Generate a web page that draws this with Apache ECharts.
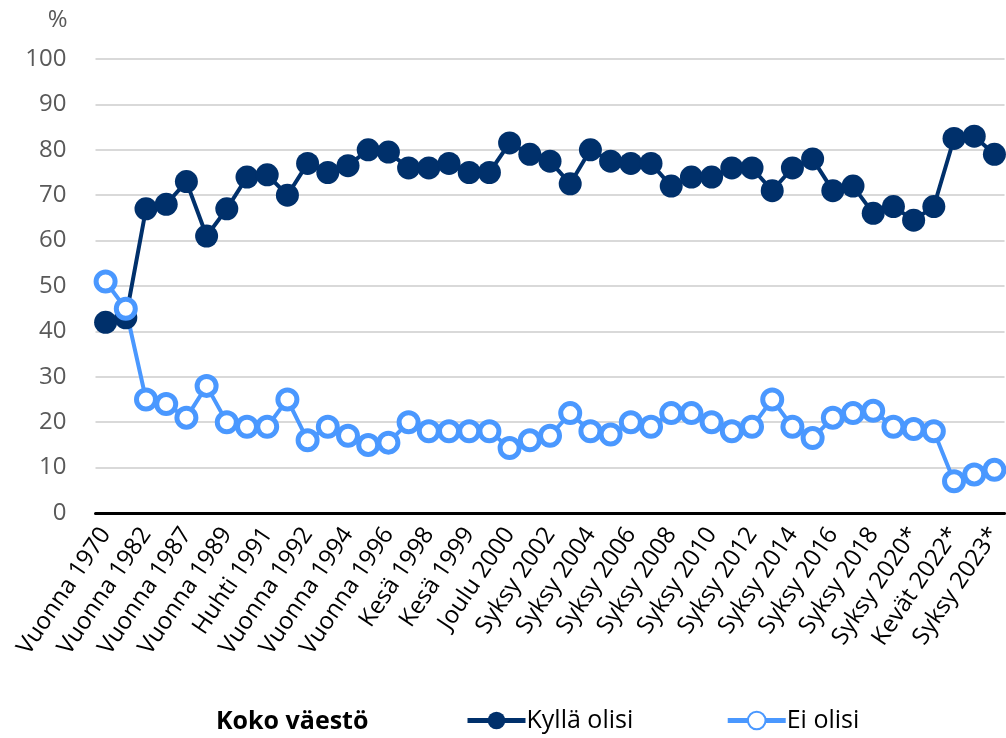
<!DOCTYPE html>
<html><head><meta charset="utf-8">
<script src="https://cdn.jsdelivr.net/npm/echarts@6/dist/echarts.min.js"></script>
<style>html,body{margin:0;padding:0;background:#fff}#c{width:1006px;height:738px}</style>
</head><body><div id="c"></div>
<script>
const categories = [
 'Vuonna 1970','Vuonna 1975','Vuonna 1982','Vuonna 1985','Vuonna 1987','Vuonna 1988','Vuonna 1989','Vuonna 1990',
 'Huhti 1991','Loka 1991','Vuonna 1992','Vuonna 1993','Vuonna 1994','Vuonna 1995','Vuonna 1996','Vuonna 1997',
 'Kesä 1998','Joulu 1998','Kesä 1999','Joulu 1999','Joulu 2000','Syksy 2001','Syksy 2002','Syksy 2003',
 'Syksy 2004','Syksy 2005','Syksy 2006','Syksy 2007','Syksy 2008','Syksy 2009','Syksy 2010','Syksy 2011',
 'Syksy 2012','Syksy 2013','Syksy 2014','Syksy 2015','Syksy 2016','Syksy 2017','Syksy 2018','Syksy 2019',
 'Syksy 2020*','Syksy 2021*','Kevät 2022*','Syksy 2022*','Syksy 2023*'
];
const kyllaOlisi = [42,43,67,68,73,61,67,74,74.5,70,77,75,76.5,80,79.5,76,76,77,75,75,81.5,79,77.5,72.5,80,77.5,77,77,72,74,74,76,76,71,76,78,71,72,66,67.5,64.5,67.5,82.5,83,79];
const eiOlisi = [51,45,25,24,21,28,20,19,19,25,16,19,17,15,15.5,20,18,18,18,18,14.3,16,17,22,18,17.3,20,19,22,22,20,18,19,25,19,16.5,21,22,22.5,19,18.5,18,7,8.5,9.5];
const yTicks = {min:0, max:100, interval:10};
const seriesNames = ['Kyllä olisi','Ei olisi'];
const groupTitle = 'Koko väestö';

const FONT = '"Open Sans", "Noto Sans", sans-serif';
const chart = echarts.init(document.getElementById('c'), null, {renderer:'canvas'});
chart.setOption({
  animation:false,
  textStyle:{fontFamily:FONT},
  title:{text:groupTitle, left:211, top:704, textStyle:{fontFamily:FONT, fontSize:25, fontWeight:'bold', color:'#000'}},
  legend:{left:460, top:703, itemGap:92, itemWidth:58, itemHeight:22,
    lineStyle:{width:5},
    textStyle:{fontFamily:FONT, fontSize:25, color:'#000', padding:[0,0,0,-4]},
    data:seriesNames},
  grid:{left:95.5, right:-3.5, top:59, bottom:225, containLabel:false},
  xAxis:{type:'category', data:categories, boundaryGap:true,
    axisTick:{show:false},
    axisLine:{lineStyle:{color:'#000', width:3}},
    axisLabel:{interval:1, rotate:56, fontFamily:FONT, fontSize:24, color:'#000', margin:17}},
  yAxis:{type:'value', min:yTicks.min, max:yTicks.max, interval:yTicks.interval,
    name:'%', nameLocation:'end', nameGap:27,
    nameTextStyle:{fontFamily:FONT, fontSize:24, color:'#595959', align:'right', padding:[0,28,0,0]},
    axisLine:{show:false}, axisTick:{show:false},
    axisLabel:{fontFamily:FONT, fontSize:24, color:'#595959', margin:29},
    splitLine:{lineStyle:{color:'#d9d9d9', width:2}}},
  series:[
    {name:seriesNames[0], type:'line', data:kyllaOlisi, symbol:'circle', symbolSize:23, showAllSymbol:true,
     lineStyle:{color:'#00306b', width:4}, itemStyle:{color:'#00306b'}},
    {name:seriesNames[1], type:'line', data:eiOlisi, symbol:'circle', symbolSize:19, showAllSymbol:true,
     lineStyle:{color:'#4a98ff', width:4}, itemStyle:{color:'#fff', borderColor:'#4a98ff', borderWidth:5}}
  ]
});
</script></body></html>
